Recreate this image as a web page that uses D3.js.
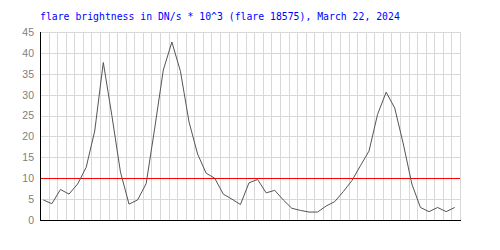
<!DOCTYPE html>
<html>
<head>
<meta charset="utf-8">
<script src="https://cdn.jsdelivr.net/npm/d3@7"></script>
<style>
  html, body { margin: 0; padding: 0; background: #fff; }
  svg { display: block; }
</style>
</head>
<body>
<svg id="chart" width="500" height="250"></svg>
<script>
const titleText = "flare brightness in DN/s * 10^3 (flare 18575), March 22, 2024";
const values = [
  4.8, 3.9, 7.3, 6.2, 8.6, 12.6, 21.3, 37.7, 25.0, 11.5,
  3.8, 4.8, 8.7, 22.0, 35.9, 42.6, 35.6, 23.5, 15.8, 11.2,
  10.0, 6.2, 5.0, 3.7, 8.9, 9.7, 6.5, 7.1, 4.8, 2.8,
  2.3, 1.9, 1.9, 3.35, 4.4, 6.8, 9.4, 13.0, 16.5, 25.3,
  30.6, 26.8, 18.2, 8.6, 3.0, 2.0, 3.0, 2.0, 3.0
];
const yTicks = [0, 5, 10, 15, 20, 25, 30, 35, 40, 45];
const threshold = 10;
const slotCount = 49;       // vertical grid slots
const pointOffset = 0.385;  // sample position within a slot

const svg = d3.select("#chart");
const mLeft = 40, mRight = 460, mTop = 32, mBottom = 220;

const x = d3.scaleLinear().domain([0, slotCount]).range([mLeft, mRight]);
const y = d3.scaleLinear().domain([0, 45]).range([mBottom, mTop]);

// grid
const grid = svg.append("g").attr("shape-rendering", "crispEdges")
  .attr("stroke", "#d8d8d8").attr("stroke-width", 1);
grid.selectAll("line.h").data(yTicks.filter(d => d > 0)).join("line")
  .attr("class", "h")
  .attr("x1", mLeft).attr("x2", mRight)
  .attr("y1", d => Math.round(y(d)) + 0.5).attr("y2", d => Math.round(y(d)) + 0.5);
grid.selectAll("line.v").data(d3.range(1, slotCount + 1)).join("line")
  .attr("class", "v")
  .attr("y1", mTop).attr("y2", mBottom)
  .attr("x1", d => Math.round(x(d)) + 0.5).attr("x2", d => Math.round(x(d)) + 0.5);

// threshold
svg.append("line").attr("shape-rendering", "crispEdges")
  .attr("x1", mLeft).attr("x2", mRight)
  .attr("y1", Math.round(y(threshold)) + 0.5).attr("y2", Math.round(y(threshold)) + 0.5)
  .attr("stroke", "#ff0000").attr("stroke-width", 1.3);

// data line
const line = d3.line().x((d, i) => x(i + pointOffset)).y(d => y(d));
svg.append("path").datum(values)
  .attr("d", line).attr("fill", "none")
  .attr("stroke", "#555").attr("stroke-width", 1);

// axes
const yAxis = d3.axisLeft(y).tickValues(yTicks).tickSize(0).tickPadding(6);
const ya = svg.append("g").attr("transform", `translate(${mLeft},0)`).call(yAxis);
ya.select(".domain").remove();
ya.selectAll("text").attr("fill", "#808080")
  .style("font-family", "'Liberation Sans', Arial, sans-serif").style("font-size", "10.5px");

svg.append("line").attr("shape-rendering", "crispEdges")
  .attr("x1", mLeft + 0.5).attr("x2", mLeft + 0.5).attr("y1", mTop).attr("y2", mBottom + 1)
  .attr("stroke", "#000").attr("stroke-width", 1.5);
svg.append("line").attr("shape-rendering", "crispEdges")
  .attr("x1", mLeft).attr("x2", mRight + 1).attr("y1", mBottom + 0.5).attr("y2", mBottom + 0.5)
  .attr("stroke", "#000").attr("stroke-width", 1.5);

// title
svg.append("text").attr("x", mLeft).attr("y", 20)
  .attr("fill", "#0000ff")
  .style("font-family", "'DejaVu Sans Mono', 'Liberation Mono', monospace")
  .style("font-size", "9.8px")
  .text(titleText);
</script>
</body>
</html>
